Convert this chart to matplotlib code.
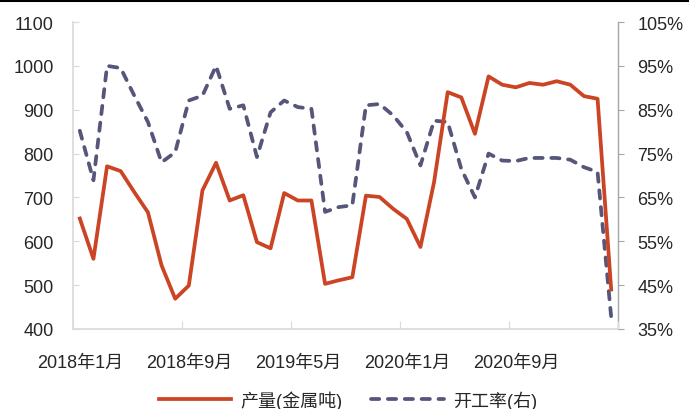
import matplotlib
matplotlib.use("Agg")
import matplotlib.pyplot as plt
from matplotlib.lines import Line2D
from matplotlib.ticker import FixedLocator, FuncFormatter

plt.rcParams['font.family'] = ['Liberation Sans', 'Noto Sans CJK SC', 'DejaVu Sans']

months = [f"{y}年{m}月" for y in (2018, 2019, 2020, 2021) for m in range(1, 13)][:40]
tick_labels = ["2018年1月", "2018年9月", "2019年5月", "2020年1月", "2020年9月"]

output = [652, 560, 771, 760, 712, 666, 545, 469, 499, 716,
          779, 693, 705, 598, 584, 710, 693, 693, 503, 511,
          518, 704, 701, 674, 651, 587, 735, 940, 928, 845,
          976, 957, 951, 961, 957, 965, 957, 931, 925, 490]

rate = [80.2, 68.9, 95.0, 94.5, 88.2, 82.2, 73.0, 75.3, 87.1, 88.2,
        95.0, 85.2, 86.0, 74.2, 84.4, 87.1, 85.6, 85.2, 61.7, 62.8,
        63.2, 86.0, 86.3, 83.7, 79.9, 72.3, 82.5, 82.2, 71.5, 65.0,
        75.0, 73.4, 73.3, 74.0, 74.0, 74.0, 73.6, 71.9, 70.8, 37.7]

label_out = "产量(金属吨)"
label_rate = "开工率(右)"

red = "#CB4423"
navy = "#55567A"
txt = "#262626"

fig = plt.figure(figsize=(6.89, 4.10), dpi=100)
ax = fig.add_axes([73/689, 1-330/410, (618-73)/689, (330-23)/410])
ax2 = ax.twinx()

x = list(range(len(months)))
l1, = ax.plot(x, output, color=red, lw=2.7, solid_joinstyle='round', zorder=3)
l2, = ax2.plot(x, rate, color=navy, lw=2.7, linestyle=(0, (2.2, 2.3)),
               dash_capstyle='round', zorder=2)
ax.set_zorder(ax2.get_zorder() + 1)
ax.patch.set_visible(False)

ax.set_xlim(-0.5, len(months) - 0.5)
ax.set_ylim(400, 1100)
ax.set_yticks(range(400, 1101, 100))
ax2.set_ylim(35, 105)
ax2.set_yticks(range(35, 106, 10))
ax2.yaxis.set_major_formatter(FuncFormatter(lambda v, p: f"{int(v)}%"))

label_pos = [months.index(t) for t in tick_labels]
ax.xaxis.set_major_locator(FixedLocator([p - 0.5 for p in label_pos] + [len(months) - 0.5]))
ax.xaxis.set_major_formatter(FuncFormatter(lambda v, p: ""))
ax.xaxis.set_minor_locator(FixedLocator(label_pos))
ax.set_xticklabels(tick_labels, minor=True)
ax.tick_params(axis='x', which='minor', length=0, pad=18, labelsize=13, labelcolor=txt)
ax.tick_params(axis='x', which='major', direction='in', length=6, color='#D9D9D9')
ax.tick_params(axis='y', direction='in', length=4, color='#D9D9D9', labelsize=13,
               labelcolor=txt, pad=14)
ax2.tick_params(axis='y', direction='out', length=4, color='#A6A6A6', labelsize=13,
                labelcolor=txt, pad=10)

for a in (ax, ax2):
    a.spines['top'].set_visible(False)
ax.spines['left'].set_color('#D9D9D9')
ax.spines['bottom'].set_color('#D9D9D9')
ax.spines['right'].set_visible(False)
ax2.spines['left'].set_visible(False)
ax2.spines['bottom'].set_visible(False)
ax2.spines['right'].set_color('#A6A6A6')
for s in ('left', 'bottom'):
    ax.spines[s].set_linewidth(1.2)
ax2.spines['right'].set_linewidth(1.0)

fig.legend([l1, l2], [label_out, label_rate], loc='center', ncol=2,
           bbox_to_anchor=(348/689, 1-401/410), frameon=False, fontsize=13,
           handlelength=4.0, handletextpad=0.5, columnspacing=1.6,
           labelcolor=txt)

fig.add_artist(Line2D([0, 1], [1-1.5/410, 1-1.5/410], color='black', lw=1.5,
                      transform=fig.transFigure))

fig.savefig("out.png", dpi=100)
